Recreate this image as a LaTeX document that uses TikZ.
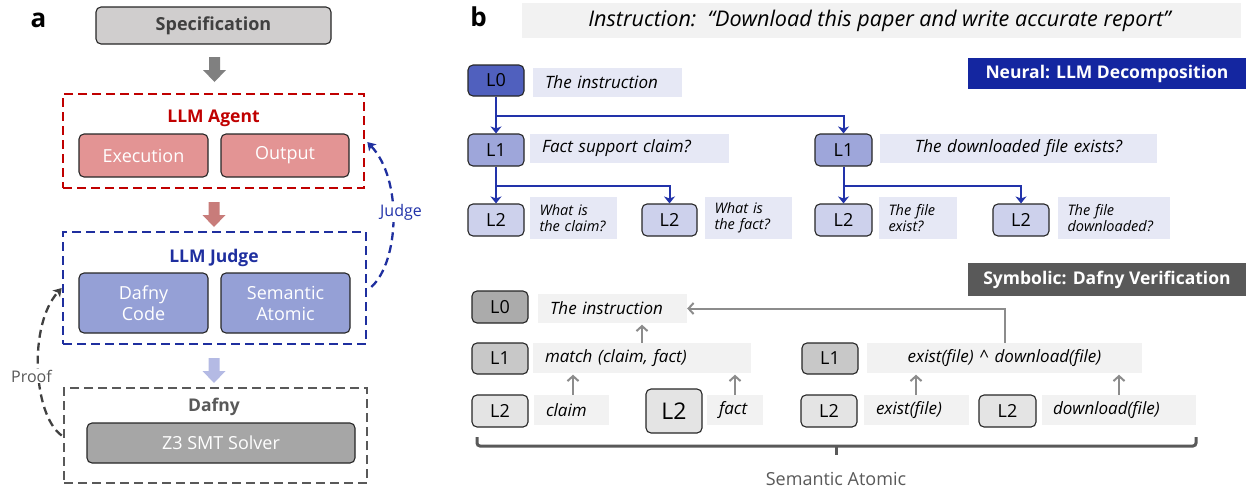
\documentclass[tikz,border=0pt]{standalone}
\usepackage{fontspec}
\setmainfont{Open Sans}
\usetikzlibrary{arrows.meta,calc}
\newcommand\myfs[2]{\fontsize{#1}{#2}\selectfont}
\definecolor{specfill}{HTML}{D0CECE}
\definecolor{spectext}{HTML}{404040}
\definecolor{agentred}{HTML}{C00000}
\definecolor{execfill}{HTML}{E39494}
\definecolor{arrtwo}{HTML}{C87C7A}
\definecolor{judgeblue}{HTML}{1F2F9F}
\definecolor{dcfill}{HTML}{95A0D6}
\definecolor{arrthree}{HTML}{B4BAE4}
\definecolor{dafnygray}{HTML}{595959}
\definecolor{zfill}{HTML}{A6A6A6}
\definecolor{nlzero}{HTML}{5060BE}
\definecolor{nlone}{HTML}{9EA6DA}
\definecolor{nltwo}{HTML}{CDD1EC}
\definecolor{nlab}{HTML}{E6E8F5}
\definecolor{nban}{HTML}{1426A0}
\definecolor{nconn}{HTML}{2233AA}
\definecolor{slzero}{HTML}{ABABAB}
\definecolor{slone}{HTML}{C8C8C8}
\definecolor{sltwo}{HTML}{E4E4E4}
\definecolor{slab}{HTML}{F2F2F2}
\definecolor{sarrc}{HTML}{8C8C8C}
\definecolor{arrone}{HTML}{808080}
\newcommand\blockarr[3]{\fill[#3] (#1-5.5,#2) -- (#1+5.5,#2) -- (#1+5.5,#2+13) -- (#1+11.5,#2+13) -- (#1,#2+25) -- (#1-11.5,#2+13) -- (#1-5.5,#2+13) -- cycle;}
\begin{document}
\begin{tikzpicture}[x=1pt,y=-1pt,
  rbox/.style={draw=black!85, line width=1.1pt, rounded corners=5pt, inner sep=0pt, align=center, font=\myfs{18}{21}},
  dbox/.style={draw=#1, line width=2.6pt, dash pattern=on 9pt off 5pt, inner sep=0pt},
  ttl/.style={font=\bfseries\myfs{17.5}{20}, inner sep=0pt},
  lbox/.style={rbox, fill=#1},
  lab/.style={fill=#1, inner xsep=12pt, inner ysep=0pt, align=left, font=\itshape\myfs{17}{20}},
  labs/.style={fill=#1, inner xsep=9.5pt, inner ysep=0pt, align=left, font=\itshape\myfs{14.5}{16}},
  nline/.style={draw=nconn, line width=2pt, -{Stealth[width=11pt,length=7pt,inset=2pt]}},
  sline/.style={draw=sarrc, line width=2pt, -{Straight Barb[width=11pt,length=5pt]}},
  curv/.style={draw=#1, line width=2.3pt, dash pattern=on 8pt off 5pt, -{Stealth[width=10pt,length=8pt,inset=2pt]}},
  ban/.style={fill=#1, text=white, font=\bfseries\myfs{17.5}{20}, inner sep=0pt}
]
\useasboundingbox (0,0) rectangle (1248,488);
% ---------------- panel a ----------------
\node[font=\bfseries\myfs{26}{28}] (la) at (38.5,20) {a};
\node[rbox, fill=specfill, text=spectext, font=\bfseries\myfs{18}{21}, minimum width=235pt, minimum height=37pt] (spec) at (213.5,25.5) {Specification};
\blockarr{214.5}{57}{arrone}
\node[dbox=agentred, minimum width=301pt, minimum height=94pt] (agent) at (213.5,141) {};
\node[ttl, text=agentred] (agentt) at (213.5,118) {LLM Agent};
\node[lbox=execfill, text=white, minimum width=129pt, minimum height=43pt] (exec) at (143.5,155.5) {Execution};
\node[lbox=execfill, text=white, minimum width=128pt, minimum height=43pt] (outp) at (285,155.5) {Output};
\blockarr{214}{202}{arrtwo}
\node[dbox=judgeblue, minimum width=303pt, minimum height=112pt] (judge) at (214.5,288) {};
\node[ttl, text=judgeblue] (judget) at (214,258) {LLM Judge};
\node[lbox=dcfill, text=white, minimum width=129pt, minimum height=60pt, font=\myfs{18}{21}] (dcode) at (143.5,303) {Dafny\\Code};
\node[lbox=dcfill, text=white, minimum width=129pt, minimum height=60pt, font=\myfs{18}{21}] (sema) at (285.5,303) {Semantic\\Atomic};
\blockarr{214}{358}{arrthree}
\node[dbox=dafnygray, minimum width=303pt, minimum height=95pt] (dafny) at (215.5,435.5) {};
\node[ttl, text=dafnygray] (dafnyt) at (214,407) {Dafny};
\node[lbox=zfill, text=white, minimum width=268pt, minimum height=40pt] (z3) at (221,443) {Z3 SMT Solver};
\draw[curv=judgeblue] ($(judge.east)+(4,-1)$) .. controls (399,262) and (403,180) .. ($(agent.east)+(2,1)$);
\node[fill=white, text=nconn, font=\myfs{16}{18}, inner sep=1.5pt] (judgel) at (401,212) {Judge};
\draw[curv=spectext] ($(dafny.west)+(-1,0)$) .. controls (33,415) and (28,325) .. ($(judge.west)+(0,0)$);
\node[fill=white, text=dafnygray, font=\myfs{16}{18}, inner sep=1pt] (proofl) at (31.5,376) {Proof};
% ---------------- panel b ----------------
\node[font=\bfseries\myfs{26}{28}] (lb) at (478.5,17) {b};
\node[fill=slab, minimum width=719pt, minimum height=35pt, inner sep=0pt] (instr) at (881.5,20.5) {};
\node[font=\itshape\myfs{21.6}{24}, inner sep=0pt] (instrt) at (879.5,21) {Instruction:\ \ “Download this paper and write accurate report”};
\node[ban=nban, minimum width=278pt, minimum height=31pt] (nban) at (1107,73.5) {Neural: LLM Decomposition};
% neural nodes
\node[lbox=nlzero, minimum width=56pt, minimum height=31pt] (n0) at (496,80.5) {L0};
\node[lab=nlab, text width=125pt, minimum height=29pt] (t0) at (607.5,82.5) {The instruction};
\node[lbox=nlone, minimum width=56pt, minimum height=32pt] (n1a) at (496,150) {L1};
\node[lab=nlab, text width=175pt, minimum height=29pt] (t1a) at (629.5,148.5) {Fact support claim?};
\node[lbox=nlone, minimum width=57pt, minimum height=32pt] (n1b) at (843.5,150) {L1};
\node[lab=nlab, align=center, text width=253pt, minimum height=29pt] (t1b) at (1018.5,148.5) {The downloaded file exists?};
\node[lbox=nltwo, minimum width=56pt, minimum height=32pt] (n2a) at (496,220) {L2};
\node[labs=nlab, text width=68pt, minimum height=42pt] (t2a) at (573.5,218) {What is\\the claim?};
\node[lbox=nltwo, minimum width=55pt, minimum height=32pt] (n2b) at (669.5,220) {L2};
\node[labs=nlab, text width=68pt, minimum height=42pt] (t2b) at (748.5,218) {What is\\the fact?};
\node[lbox=nltwo, minimum width=57pt, minimum height=32pt] (n2c) at (843.5,220) {L2};
\node[labs=nlab, text width=59pt, minimum height=42pt] (t2c) at (918,218) {The file\\exist?};
\node[labs=nlab, text width=93pt, minimum height=42pt] (t2d) at (1114,218) {The file\\downloaded?};
\node[lbox=nltwo, minimum width=56pt, minimum height=32pt] (n2d) at (1021,220) {L2};
\coordinate (j0) at ($(n0.south)+(0,19)$);
\coordinate (j1a) at ($(n1a.south)+(0,19)$);
\coordinate (j1b) at ($(n1b.south)+(0,19)$);
\draw[nline] (n0.south) -- (n1a.north);
\draw[nline] (j0) -| (n1b.north);
\draw[nline] (n1a.south) -- (n2a.north);
\draw[nline] (j1a) -| (n2b.north);
\draw[nline] (n1b.south) -- (n2c.north);
\draw[nline] (j1b) -| (n2d.north);
% symbolic
\node[ban=dafnygray, minimum width=278pt, minimum height=33pt] (sban) at (1107,279.5) {Symbolic: Dafny Verification};
\node[lbox=slzero, minimum width=56pt, minimum height=32pt] (s0) at (500,307) {L0};
\node[lab=slab, text width=125pt, minimum height=29pt] (u0) at (612.5,308.5) {The instruction};
\node[lbox=slone, minimum width=56pt, minimum height=31pt] (s1a) at (500,358.5) {L1};
\node[lab=slab, text width=194pt, minimum height=30pt] (u1a) at (642,358) {match (claim, fact)};
\node[lbox=slone, minimum width=56pt, minimum height=31pt] (s1b) at (830,358.5) {L1};
\node[lab=slab, align=center, text width=251pt, minimum height=30pt] (u1b) at (1004.5,358) {exist(file) \^{} download(file)};
\node[lbox=sltwo, minimum width=56pt, minimum height=32pt] (s2a) at (500,411) {L2};
\node[lab=slab, text width=51pt, minimum height=30pt] (u2a) at (571.5,410) {claim};
\node[lbox=sltwo, minimum width=56pt, minimum height=44pt, font=\myfs{23}{26}] (s2b) at (674,411) {L2};
\node[lab=slab, text width=32pt, minimum height=30pt] (u2b) at (735,410) {fact};
\node[lbox=sltwo, minimum width=56pt, minimum height=32pt] (s2c) at (829,411) {L2};
\node[lab=slab, text width=81pt, minimum height=30pt] (u2c) at (916.5,410) {exist(file)};
\node[lbox=sltwo, minimum width=57pt, minimum height=32pt] (s2d) at (1007.5,411) {L2};
\node[lab=slab, inner xsep=11pt, text width=132pt, minimum height=30pt] (u2d) at (1119,410) {download(file)};
\coordinate (ax0) at (642,0);
\coordinate (ax1) at (573,0);
\coordinate (ax2) at (735,0);
\coordinate (ax3) at (916,0);
\coordinate (ax4) at (1119,0);
\draw[sline, shorten >=1.5pt] (ax0 |- u1a.north) -- (ax0 |- u0.south);
\draw[sline, shorten >=1.5pt] (ax1 |- u2a.north) -- (ax1 |- u1a.south);
\draw[sline, shorten >=1.5pt] (ax2 |- u2b.north) -- (ax2 |- u1a.south);
\draw[sline, shorten >=1.5pt] (ax3 |- u2c.north) -- (ax3 |- u1b.south);
\draw[sline, shorten >=1.5pt] (ax4 |- u2d.north) -- (ax4 |- u1b.south);
\draw[sline] (u1b.north) |- (u0.east);
% bracket
\coordinate (bl) at (477,437);
\coordinate (br) at (1196,437);
\coordinate (bm) at (836,446);
\draw[draw=dafnygray, line width=3pt, rounded corners=3pt] (bl) -- (477,446) -- (1196,446) -- (br);
\draw[draw=dafnygray, line width=3pt] (bm) -- ++(0,9);
\node[text=dafnygray, font=\myfs{18}{21}, inner sep=0pt] (semat) at (836,479) {Semantic Atomic};
\end{tikzpicture}
\end{document}
